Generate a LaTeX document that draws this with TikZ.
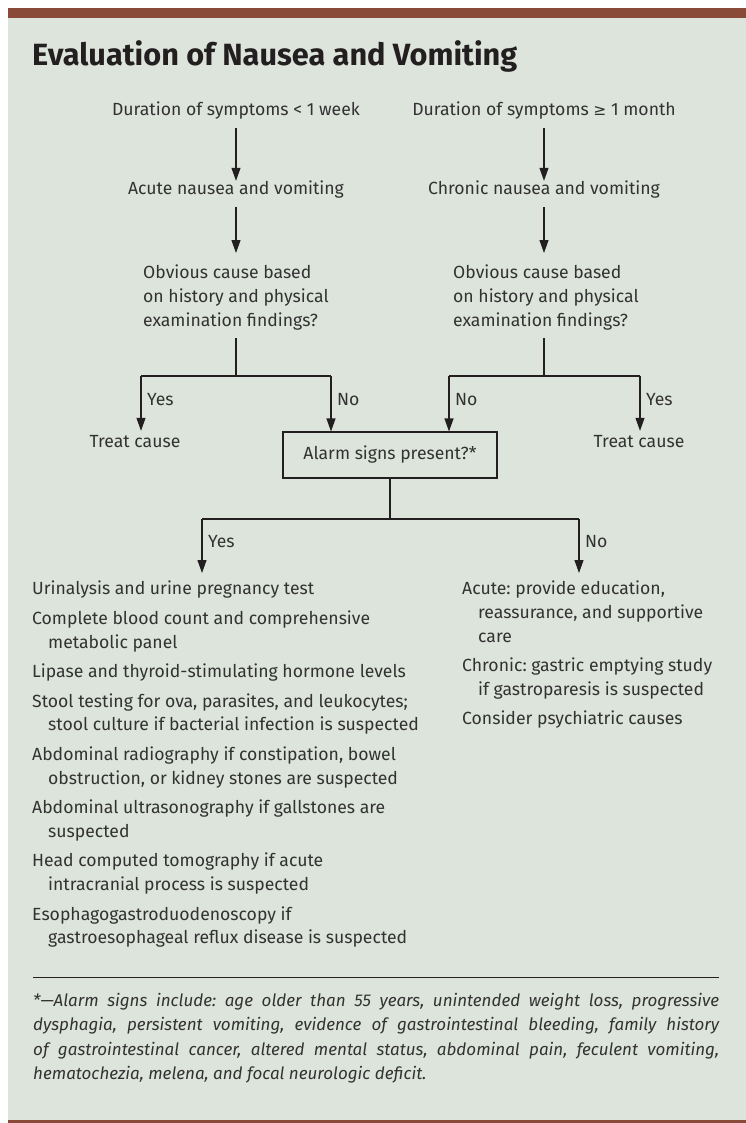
\documentclass[tikz,border=0pt]{standalone}
\usepackage{fontspec}
\setmainfont{Fira Sans}
\newfontfamily\symf{DejaVu Sans}
\usetikzlibrary{arrows.meta}
\definecolor{bgc}{RGB}{221,228,219}
\definecolor{barc}{RGB}{138,74,58}
\definecolor{txtc}{RGB}{50,50,50}
\definecolor{lnc}{RGB}{35,31,32}
\begin{document}
\frenchspacing
\begin{tikzpicture}[x=1bp,y=-1bp,
  lbl/.style={font=\fontsize{17.6bp}{23.6bp}\selectfont, text=txtc, inner sep=0pt},
  one/.style={lbl, text height=12bp, text depth=4bp},
  multi/.style={lbl, align=left, anchor=north west},
  conn/.style={draw=lnc, line width=1.1bp},
  arr/.style={conn, -{Triangle[length=13bp,width=9bp]}},
  alarm/.style={one, draw=lnc, line width=1.1bp, minimum width=214bp, minimum height=46bp}
]
\useasboundingbox (0,0) rectangle (746,1123);
\fill[bgc] (8,18) rectangle (746,1120);
\fill[barc] (8,8) rectangle (746,18);
\fill[barc] (8,1120) rectangle (746,1123);

% title
\node[anchor=west, inner sep=0pt, text=lnc, font=\fontsize{30.7bp}{32bp}\selectfont\bfseries] (title) at (32,56) {Evaluation of Nausea and Vomiting};

% top row
\node[one] (d1) at (236,111) {Duration of symptoms < 1 week};
\node[one] (d2) at (544,111) {Duration of symptoms {\symf\fontsize{15.5bp}{18bp}\selectfont ≥} 1 month};
\node[one] (a1) at (236,190) {Acute nausea and vomiting};
\node[one] (a2) at (544,190) {Chronic nausea and vomiting};
\node[multi] (o1) at (143,265) {Obvious cause based\\on history and physical\\examination findings?};
\node[multi] (o2) at (453,265) {Obvious cause based\\on history and physical\\examination findings?};

\draw[arr, shorten <=9bp, shorten >=1bp] (d1) -- (a1);
\draw[arr, shorten <=9bp, shorten >=1bp] (d2) -- (a2);
\draw[arr, shorten <=9bp, shorten >=12bp] (a1) -- (a1 |- o1.north);
\draw[arr, shorten <=9bp, shorten >=12bp] (a2) -- (a2 |- o2.north);

% branch coordinates
\coordinate (j1) at (236,376);
\coordinate (jy1) at (141,376);
\coordinate (jn1) at (331,376);
\coordinate (j2) at (544,376);
\coordinate (jn2) at (449,376);
\coordinate (jy2) at (640,376);

\node[one] (t1) at (135,443) {Treat cause};
\node[one] (t2) at (639,443) {Treat cause};
\node[alarm] (box) at (390,455) {Alarm signs present?*};

\draw[conn, shorten <=8bp] (o1.south -| j1) -- (j1);
\draw[conn, shorten <=8bp] (o2.south -| j2) -- (j2);
\draw[conn] (jy1) -- (jn1);
\draw[conn] (jn2) -- (jy2);
\draw[arr, shorten >=4bp] (jy1) -- (jy1 |- t1.north);
\draw[arr] (jn1) -- (jn1 |- box.north);
\draw[arr] (jn2) -- (jn2 |- box.north);
\draw[arr, shorten >=4bp] (jy2) -- (jy2 |- t2.north);

\node[one, anchor=west] (y1) at (147,401) {Yes};
\node[one, anchor=west] (n1) at (337,401) {No};
\node[one, anchor=west] (n2) at (455,401) {No};
\node[one, anchor=west] (y2) at (646,401) {Yes};

% second branch
\coordinate (j3) at (390,519);
\coordinate (jy3) at (202,519);
\coordinate (jn3) at (579,519);

\node[multi] (yeslist) at (32,581) {Urinalysis and urine pregnancy test\\[6bp]
Complete blood count and comprehensive\\\hspace*{16bp}metabolic panel\\[6bp]
Lipase and thyroid-stimulating hormone levels\\[6bp]
Stool testing for ova, parasites, and leukocytes;\\\hspace*{16bp}stool culture if bacterial infection is suspected\\[6bp]
Abdominal radiography if constipation, bowel\\\hspace*{16bp}obstruction, or kidney stones are suspected\\[6bp]
Abdominal ultrasonography if gallstones are\\\hspace*{16bp}suspected\\[6bp]
Head computed tomography if acute\\\hspace*{16bp}intracranial process is suspected\\[6bp]
Esophagogastroduodenoscopy if\\\hspace*{16bp}gastroesophageal reflux disease is suspected};

\node[multi] (nolist) at (462,581) {Acute: provide education,\\\hspace*{16bp}reassurance, and supportive\\\hspace*{16bp}care\\[6bp]
Chronic: gastric emptying study\\\hspace*{16bp}if gastroparesis is suspected\\[6bp]
Consider psychiatric causes};

\draw[conn] (box) -- (j3);
\draw[conn] (jy3) -- (jn3);
\draw[arr, shorten >=8bp] (jy3) -- (jy3 |- yeslist.north);
\draw[arr, shorten >=8bp] (jn3) -- (jn3 |- nolist.north);
\node[one, anchor=west] (y3) at (208,543) {Yes};
\node[one, anchor=west] (n3) at (585,543) {No};

% footnote
\draw[draw=lnc, line width=1bp] (33,977) -- (719,977);
\node[lbl, anchor=north west, text width=686bp, align=justify, font=\fontsize{17bp}{24.4bp}\selectfont\itshape] (foot) at (33,993) {*---Alarm signs include: age older than 55 years, unintended weight loss, progressive\linebreak
dysphagia, persistent vomiting, evidence of gastrointestinal bleeding, family history\linebreak
of gastrointestinal cancer, altered mental status, abdominal pain, feculent vomiting,\linebreak
hematochezia, melena, and focal neurologic deficit.};
\end{tikzpicture}
\end{document}
